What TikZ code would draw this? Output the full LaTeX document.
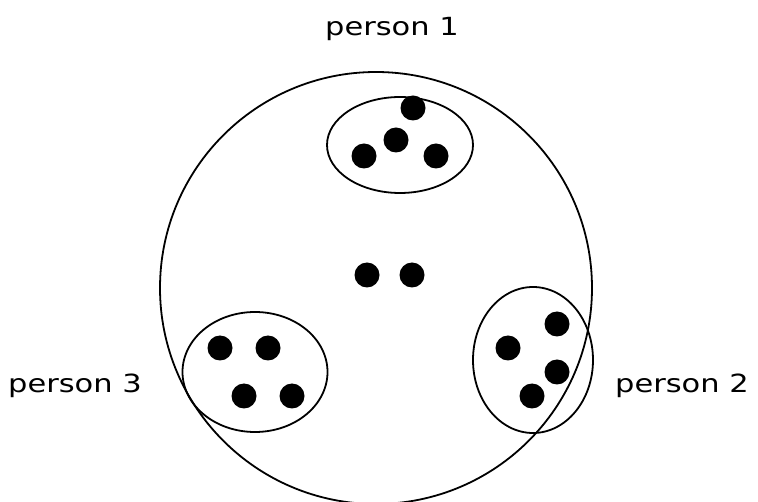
\documentclass[tikz,border=0pt]{standalone}
\usepackage{fontspec}
\setmainfont[FakeStretch=1.22]{DejaVu Sans}
\usetikzlibrary{positioning,shapes.geometric}

\begin{document}
\begin{tikzpicture}[
x=1pt, y=-1pt,
font=\fontsize{25}{28}\selectfont,
dot/.style={circle, fill=black, inner sep=0pt, minimum size=25pt},
group/.style={draw, ellipse, line width=1.8pt, inner sep=0pt},
lbl/.style={anchor=base, inner sep=0pt}
]
\useasboundingbox (0,0) rectangle (758,502);
% the whole set
\node[draw, circle, line width=1.8pt, inner sep=0pt, minimum size=432pt] (world) at (376,288) {};

% groups
\node[group, minimum width=146pt, minimum height=96pt] (g1) at (400,145) {};
\node[group, minimum width=120pt, minimum height=146pt] (g2) at (533,360) {};
\node[group, minimum width=145pt, minimum height=120pt] (g3) at (255,372) {};

% members of person 1
\node[dot] (a1) at (413,108) {};
\node[dot] (a2) at (396,140) {};
\node[dot] (a3) at (364,156) {};
\node[dot] (a4) at (436,156) {};

% members of person 2
\node[dot] (b1) at (557,324) {};
\node[dot] (b2) at (508,348) {};
\node[dot] (b3) at (557,372) {};
\node[dot] (b4) at (532,396) {};

% members of person 3
\node[dot] (c1) at (220,348) {};
\node[dot] (c2) at (268,348) {};
\node[dot] (c3) at (244,396) {};
\node[dot] (c4) at (292,396) {};

% nobody's
\node[dot] (m1) at (367,275) {};
\node[dot] (m2) at (412,275) {};

\node[lbl] (p1) at (392,36) {person 1};
\node[lbl] (p2) at (682,393) {person 2};
\node[lbl] (p3) at (75,393) {person 3};
\end{tikzpicture}
\end{document}
